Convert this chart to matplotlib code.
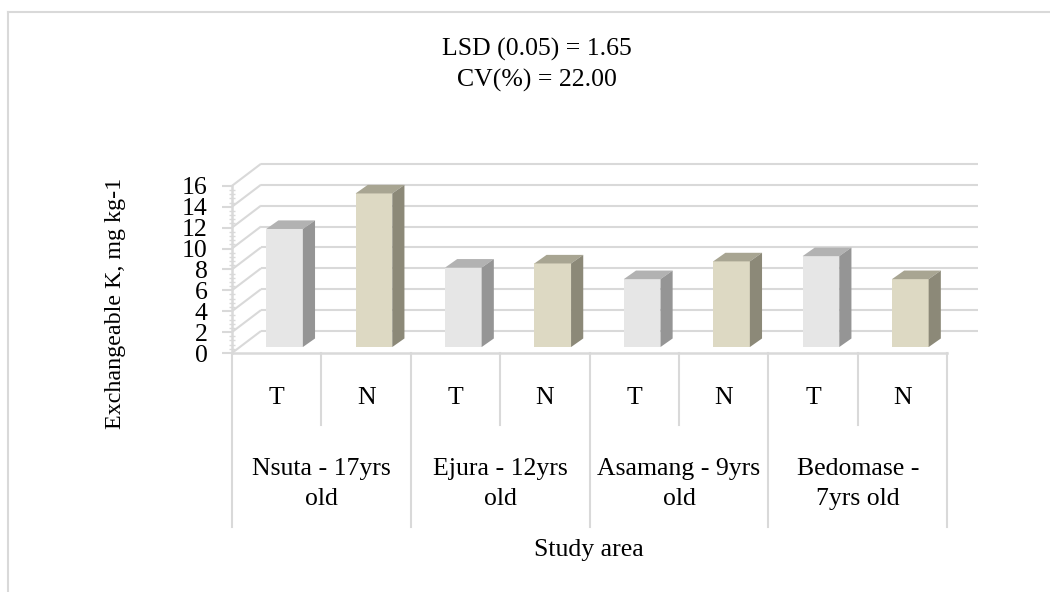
import numpy as np
import matplotlib
matplotlib.use("Agg")
import matplotlib.pyplot as plt
from matplotlib.patches import Polygon
from matplotlib.lines import Line2D

# ---- data -------------------------------------------------------------
site_lines = [
    ["Nsuta - 17yrs", "old"],
    ["Ejura - 12yrs", "old"],
    ["Asamang - 9yrs", "old"],
    ["Bedomase -", "7yrs old"],
]
treatments = ["T", "N"]
exch_k_T = [11.3, 7.6, 6.5, 8.7]
exch_k_N = [14.7, 8.0, 8.2, 6.5]
y_ticks = [0, 2, 4, 6, 8, 10, 12, 14, 16]
stats_lines = ["LSD (0.05) = 1.65", "CV(%) = 22.00"]
y_label = "Exchangeable K, mg kg-1"
x_label = "Study area"

# ---- styling ------------------------------------------------------------
plt.rcParams["font.family"] = ["Liberation Serif", "DejaVu Serif"]
FS = 18.5
GRID = "#d9d9d9"
face_cols = {"T": ("#e6e6e6", "#b2b2b2", "#959595"),
             "N": ("#ddd9c3", "#a8a592", "#8c8978")}

W, H = 1050, 592
fig = plt.figure(figsize=(W / 100, H / 100), dpi=100)
ax = fig.add_axes([0, 0, 1, 1])

# plot frame: front-left floor corner, category width and value scale (pixels)
x0_px, y0_px, cat_px, unit_px = 232, 353, 89.4, 10.45
ax.set_xlim(-x0_px / cat_px, (W - x0_px) / cat_px)
ax.set_ylim(-(H - y0_px) / unit_px, y0_px / unit_px)


def ydata(py):
    return (y0_px - py) / unit_px


n_cat = len(site_lines) * len(treatments)
# oblique depth of the chart box and of each column
dep_x, dep_y = 29 / cat_px, 22 / unit_px
bar_w = 0.41
bar_off_x, bar_off_y = 0.27 * dep_x, 0.27 * dep_y
bar_dx, bar_dy = 0.42 * dep_x, 0.39 * dep_y

# walls: side-wall diagonals and back-wall gridlines
for v in y_ticks:
    ax.plot([0, dep_x], [v, v + dep_y], color=GRID, lw=1.5, zorder=1,
            solid_capstyle="butt")
    ax.plot([dep_x, n_cat + dep_x + 0.02], [v + dep_y, v + dep_y],
            color=GRID, lw=1.5, zorder=1, solid_capstyle="butt")

# floor front edge
ax.plot([0, n_cat], [0, 0], color=GRID, lw=1.8, zorder=2)

# columns
values, kinds = [], []
for t_val, n_val in zip(exch_k_T, exch_k_N):
    values += [t_val, n_val]
    kinds += treatments
xs = np.arange(n_cat) + 0.5 + bar_off_x
fronts = [face_cols[k][0] for k in kinds]
bars = ax.bar(xs, values, width=bar_w, bottom=bar_off_y, color=fronts,
              linewidth=0, zorder=3)
for rect, kind in zip(bars, kinds):
    xl = rect.get_x()
    xr = xl + rect.get_width()
    yb = rect.get_y()
    yt = yb + rect.get_height()
    _, top_c, side_c = face_cols[kind]
    ax.add_patch(Polygon([(xl, yt), (xr, yt), (xr + bar_dx, yt + bar_dy),
                          (xl + bar_dx, yt + bar_dy)],
                         closed=True, facecolor=top_c, lw=0, zorder=3))
    ax.add_patch(Polygon([(xr, yb), (xr + bar_dx, yb + bar_dy),
                          (xr + bar_dx, yt + bar_dy), (xr, yt)],
                         closed=True, facecolor=side_c, lw=0, zorder=3))

# category dividers below the floor
for k in range(n_cat + 1):
    bottom = ydata(527) if k % 2 == 0 else ydata(425)
    ax.plot([k, k], [0, bottom], color=GRID, lw=1.5, zorder=2)

# category labels
for i, kind in enumerate(kinds):
    ax.text(i + 0.5, ydata(404), kind, ha="center", va="baseline",
            fontsize=FS)
for g, (l1, l2) in enumerate(site_lines):
    ax.text(2 * g + 1, ydata(475), l1, ha="center", va="baseline",
            fontsize=FS)
    ax.text(2 * g + 1, ydata(505), l2, ha="center", va="baseline",
            fontsize=FS)

# value axis on the front-left edge
for side in ["top", "right", "bottom"]:
    ax.spines[side].set_visible(False)
ax.xaxis.set_visible(False)
ax.patch.set_visible(False)
ax.spines["left"].set_position(("data", 0))
ax.spines["left"].set_bounds(y_ticks[0], y_ticks[-1])
ax.spines["left"].set_color(GRID)
ax.spines["left"].set_linewidth(1.8)
ax.set_yticks(y_ticks)
ax.set_yticklabels([str(v) for v in y_ticks])
minor = [m for m in np.arange(0, y_ticks[-1] + 0.01, 0.4)
         if not np.isclose(m % 2, 0) and not np.isclose(m % 2, 2)]
ax.set_yticks(minor, minor=True)
ax.tick_params(axis="y", which="major", direction="out", length=7,
               width=1.5, color=GRID, pad=10.5, labelsize=FS)
ax.tick_params(axis="y", which="minor", direction="inout", length=4.5,
               width=1.0, color=GRID)

# texts
fig.text(537 / W, 1 - 55.7 / H, stats_lines[0], ha="center", va="baseline",
         fontsize=FS)
fig.text(537 / W, 1 - 86.7 / H, stats_lines[1], ha="center", va="baseline",
         fontsize=FS)
fig.text(589 / W, 1 - 556 / H, x_label, ha="center", va="baseline",
         fontsize=FS)
fig.text(116 / W, 1 - 303 / H, y_label, ha="center", va="center",
         rotation=90, fontsize=17.3)

# chart-area border (left and top edges)
fig.add_artist(Line2D([8.3 / W, 8.3 / W], [0, 1 - 11.8 / H], color=GRID,
                      lw=1.5, transform=fig.transFigure))
fig.add_artist(Line2D([8.3 / W, 1], [1 - 11.8 / H, 1 - 11.8 / H],
                      color=GRID, lw=1.5, transform=fig.transFigure))

fig.savefig("out.png", dpi=100)
